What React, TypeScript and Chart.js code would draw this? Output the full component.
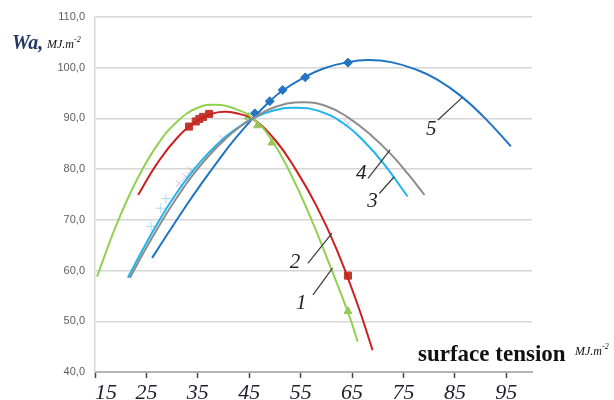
import React, { useEffect, useRef } from "react";
import { Chart, registerables } from "chart.js";

Chart.register(...registerables);

// ---- data ----
const xTickValues = [15, 25, 35, 45, 55, 65, 75, 85, 95];
const xMin = 15;
const xMax = 100;
const yMin = 40;
const yMax = 110;
const yStep = 10;

// curve 1 (green)
const curve1X = [15.4, 19.0, 23.0, 27.0, 31.0, 35.0, 38.3, 42.0, 45.7, 49.2, 53.0, 57.0, 60.3, 64.2, 66.1];
const curve1Y = [58.8, 68.6, 77.6, 84.6, 89.4, 92.1, 92.7, 92.0, 90.0, 86.0, 79.2, 70.3, 62.0, 51.8, 46.0];
// curve 2 (red)
const curve2X = [23.4, 27.0, 31.0, 35.0, 38.0, 40.5, 43.0, 45.7, 50.0, 54.0, 58.0, 62.0, 66.0, 69.0];
const curve2Y = [74.9, 81.0, 86.2, 89.6, 91.0, 91.3, 90.9, 89.9, 85.8, 80.0, 72.9, 64.2, 53.5, 44.3];
// curve 3 (light blue)
const curve3X = [21.4, 24.0, 27.2, 30.4, 33.7, 36.9, 40.2, 43.4, 45.7, 49.9, 54.4, 59.0, 63.5, 67.4, 71.3, 75.8];
const curve3Y = [58.6, 63.6, 69.4, 74.6, 79.2, 83.0, 86.2, 88.6, 90.0, 91.6, 92.1, 91.3, 88.9, 85.4, 80.9, 74.6];
// curve 4 (gray)
const curve4X = [21.8, 24.5, 27.8, 30.8, 33.7, 37.0, 40.2, 43.0, 45.7, 49.9, 55.4, 60.3, 64.2, 68.7, 72.6, 76.0, 79.1];
const curve4Y = [58.6, 63.6, 69.4, 74.2, 78.4, 82.5, 85.8, 88.2, 90.0, 92.2, 93.2, 92.3, 90.2, 86.7, 82.9, 78.9, 74.9];
// curve 5 (blue)
const curve5X = [26.1, 29.1, 32.4, 35.6, 38.9, 42.1, 45.7, 48.9, 51.5, 55.7, 59.6, 64.2, 68.1, 72.6, 77.8, 81.5, 86.2, 90.7, 95.9];
const curve5Y = [62.5, 67.2, 72.3, 77.0, 81.6, 85.8, 90.0, 93.3, 95.5, 98.1, 99.9, 101.1, 101.5, 101.1, 99.5, 97.7, 94.4, 90.2, 84.5];

// experimental points
const pts1X = [44.8, 46.6, 49.4, 64.2];
const pts1Y = [90.3, 88.6, 85.2, 52.0];
const pts2X = [33.3, 34.6, 35.3, 36.0, 37.2, 64.2];
const pts2Y = [88.4, 89.4, 89.9, 90.3, 90.9, 59.0];
const pts3X = [25.9, 27.8, 28.8];
const pts3Y = [68.7, 72.3, 74.2];
const pts4X = [31.4, 32.7, 33.7, 39.8, 64.2];
const pts4Y = [77.2, 78.5, 79.8, 86.1, 89.0];
const pts5X = [46.1, 49.0, 51.5, 55.9, 64.2];
const pts5Y = [91.0, 93.4, 95.6, 98.1, 101.0];

// curve number labels with leader lines (data coordinates)
const labelTexts = ["1", "2", "3", "4", "5"];
const labelX = [55.1, 53.9, 69.0, 66.8, 80.4];
const labelY = [53.6, 61.5, 73.6, 79.2, 87.8];
const leaderX1 = [57.4, 56.4, 70.3, 68.1, 81.7];
const leaderY1 = [55.2, 61.4, 75.2, 78.2, 89.7];
const leaderX2 = [61.2, 61.1, 73.2, 72.4, 86.4];
const leaderY2 = [60.5, 67.4, 78.5, 83.8, 94.1];

const zip = (xs: number[], ys: number[]) => xs.map((x, i) => ({ x, y: ys[i] }));

const SERIF = "'Liberation Serif', 'Times New Roman', serif";

const annotPlugin = {
  id: "annot",
  afterDatasetsDraw(chart: any) {
    const ctx = chart.ctx;
    const xs = chart.scales.x;
    const ys = chart.scales.y;
    ctx.save();
    ctx.strokeStyle = "#3a3a3a";
    ctx.lineWidth = 1.2;
    for (let i = 0; i < labelTexts.length; i++) {
      ctx.beginPath();
      ctx.moveTo(xs.getPixelForValue(leaderX1[i]), ys.getPixelForValue(leaderY1[i]));
      ctx.lineTo(xs.getPixelForValue(leaderX2[i]), ys.getPixelForValue(leaderY2[i]));
      ctx.stroke();
    }
    ctx.fillStyle = "#222";
    ctx.font = `italic 21px ${SERIF}`;
    ctx.textAlign = "center";
    ctx.textBaseline = "middle";
    for (let i = 0; i < labelTexts.length; i++) {
      ctx.fillText(labelTexts[i], xs.getPixelForValue(labelX[i]), ys.getPixelForValue(labelY[i]));
    }
    ctx.restore();
  },
  afterDraw(chart: any) {
    const ctx = chart.ctx;
    ctx.save();
    ctx.textAlign = "left";
    ctx.textBaseline = "alphabetic";
    // y title
    ctx.fillStyle = "#1F3864";
    ctx.font = `bold italic 20px ${SERIF}`;
    ctx.fillText("Wa,", 12, 49);
    ctx.fillStyle = "#111";
    ctx.font = `italic 12px ${SERIF}`;
    ctx.fillText("MJ.m", 47, 48);
    const w1 = ctx.measureText("MJ.m").width;
    ctx.font = `italic 8px ${SERIF}`;
    ctx.fillText("-2", 47 + w1, 42);
    // x title
    ctx.fillStyle = "#111";
    ctx.font = `bold 23px ${SERIF}`;
    ctx.fillText("surface tension", 418, 361);
    ctx.font = `italic 12px ${SERIF}`;
    ctx.fillText("MJ.m", 575, 355);
    const w2 = ctx.measureText("MJ.m").width;
    ctx.font = `italic 8px ${SERIF}`;
    ctx.fillText("-2", 575 + w2, 349);
    ctx.restore();
  },
};

export default function App() {
  const ref = useRef<HTMLCanvasElement | null>(null);
  useEffect(() => {
    if (!ref.current) return;
    const lineDs = (xs: number[], ys: number[], color: string) => ({
      data: zip(xs, ys),
      showLine: true,
      borderColor: color,
      backgroundColor: color,
      borderWidth: 2,
      pointRadius: 0,
      tension: 0.45,
      fill: false,
    });
    const ptDs = (xs: number[], ys: number[], color: string, style: string, r: number) => ({
      data: zip(xs, ys),
      showLine: false,
      pointStyle: style,
      pointRadius: r,
      pointBorderWidth: 1,
      borderColor: color,
      backgroundColor: color,
    });
    const chart = new Chart(ref.current, {
      type: "scatter",
      data: {
        datasets: [
          lineDs(curve4X, curve4Y, "#8c8c8c"),
          lineDs(curve3X, curve3Y, "#1fb4ec"),
          lineDs(curve5X, curve5Y, "#1f73c4"),
          lineDs(curve1X, curve1Y, "#92d050"),
          lineDs(curve2X, curve2Y, "#cc1f1f"),
          ptDs(pts3X, pts3Y, "#a9dcf0", "cross", 5),
          ptDs(pts4X, pts4Y, "#c9bde3", "crossRot", 5),
          ptDs(pts5X, pts5Y, "#2a76c0", "rectRot", 4.5),
          ptDs(pts1X, pts1Y, "#98c55a", "triangle", 4.5),
          ptDs(pts2X, pts2Y, "#c0392f", "rect", 5),
        ] as any,
      },
      options: {
        responsive: false,
        animation: false,
        events: [],
        layout: { padding: { top: 17, right: 82, left: 0, bottom: 0 } },
        plugins: { legend: { display: false }, tooltip: { enabled: false } },
        scales: {
          x: {
            type: "linear",
            min: xMin,
            max: xMax,
            afterBuildTicks: (scale: any) => {
              scale.ticks = [...xTickValues, xMax].map((v) => ({ value: v }));
            },
            afterFit: (scale: any) => {
              scale.height = 28;
            },
            grid: {
              drawOnChartArea: false,
              drawTicks: true,
              tickLength: 6,
              tickWidth: 1.5,
              tickColor: (c: any) => (c.tick && xTickValues.includes(c.tick.value) ? "#444" : "rgba(0,0,0,0)"),
            },
            border: { display: true, color: "#b3b3b3", width: 2 },
            ticks: {
              align: "inner",
              padding: 2,
              maxRotation: 0,
              autoSkip: false,
              color: "#1d1d2b",
              font: { family: SERIF, size: 22, style: "italic" },
              callback: (v: any) => (xTickValues.includes(v) ? String(v) : ""),
            },
          },
          y: {
            type: "linear",
            min: yMin,
            max: yMax,
            afterFit: (scale: any) => {
              scale.width = 95;
            },
            grid: { color: "#d6d6d6", lineWidth: 1.5, drawTicks: false },
            border: { display: true, color: "#d9d9d9", width: 1.5 },
            ticks: {
              stepSize: yStep,
              padding: 10,
              color: "#5f5f5f",
              font: { family: "'Liberation Sans', Arial, sans-serif", size: 11 },
              callback: (v: any) => Number(v).toFixed(1).replace(".", ","),
            },
          },
        },
      } as any,
      plugins: [annotPlugin],
    });
    return () => chart.destroy();
  }, []);
  return (
    <div style={{ position: "absolute", left: 0, top: 0, width: 614, height: 400, background: "#fff" }}>
      <canvas ref={ref} width={614} height={400} />
    </div>
  );
}
